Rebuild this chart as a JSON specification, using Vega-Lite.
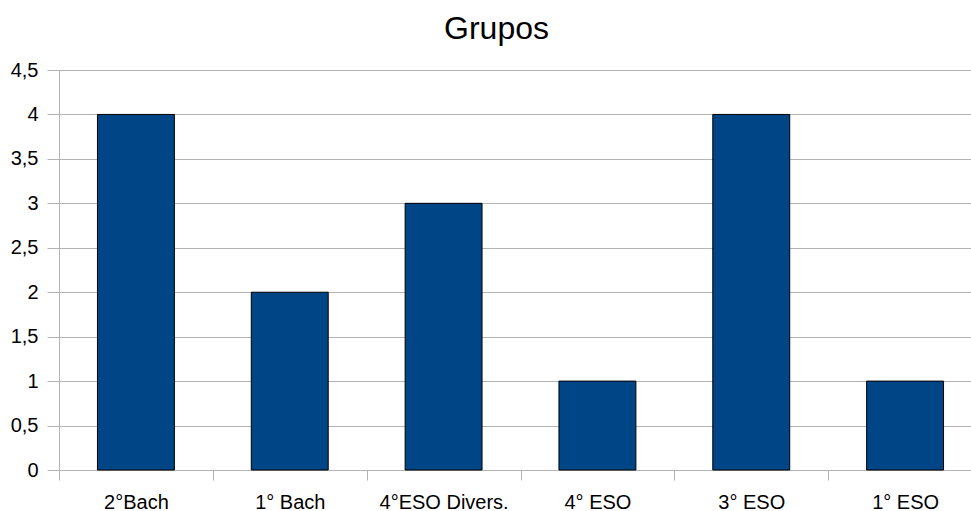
{
  "$schema": "https://vega.github.io/schema/vega-lite/v6.json",
  "autosize": "none",
  "width": 923,
  "height": 400,
  "padding": {"left": 59, "top": 70, "right": 0, "bottom": 41},
  "background": "white",
  "title": {
    "text": "Grupos",
    "font": "Liberation Sans",
    "fontSize": 32,
    "fontWeight": "normal",
    "color": "black",
    "anchor": "middle",
    "dx": -24,
    "offset": 14
  },
  "data": {
    "values": [
      {"grupo": "2°Bach", "valor": 4},
      {"grupo": "1° Bach", "valor": 2},
      {"grupo": "4°ESO Divers.", "valor": 3},
      {"grupo": "4° ESO", "valor": 1},
      {"grupo": "3° ESO", "valor": 4},
      {"grupo": "1° ESO", "valor": 1}
    ]
  },
  "config": {
    "view": {"stroke": null},
    "axis": {
      "labelFont": "Liberation Sans",
      "labelFontSize": 20,
      "labelColor": "black",
      "domainColor": "#b3b3b3",
      "tickColor": "#b3b3b3",
      "gridColor": "#b3b3b3"
    }
  },
  "mark": {"type": "bar", "color": "#004586", "stroke": "black", "strokeWidth": 1, "width": {"band": 0.5}},
  "encoding": {
    "x": {
      "field": "grupo",
      "type": "nominal",
      "sort": null,
      "scale": {"paddingInner": 0, "paddingOuter": 0},
      "axis": {
        "title": null,
        "labelAngle": 0,
        "tickBand": "extent",
        "tickSize": 10,
        "labelPadding": 12,
        "grid": false
      }
    },
    "y": {
      "field": "valor",
      "type": "quantitative",
      "scale": {"domain": [0, 4.5], "nice": false},
      "axis": {
        "title": null,
        "values": [0, 0.5, 1, 1.5, 2, 2.5, 3, 3.5, 4, 4.5],
        "labelExpr": "replace(format(datum.value, '~g'), '.', ',')",
        "tickSize": 12,
        "labelPadding": 9,
        "grid": true
      }
    }
  }
}
